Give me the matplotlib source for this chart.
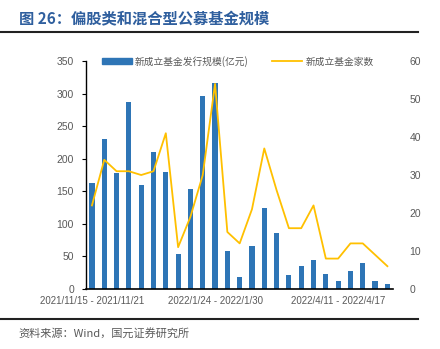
import numpy as np
import matplotlib.pyplot as plt
from matplotlib.lines import Line2D

plt.rcParams['font.family'] = ['Liberation Sans', 'Noto Sans CJK SC', 'DejaVu Sans']

# weekly data, 2021/11/15 - 2022/4/17
weeks = list(range(25))
scale = [162, 231, 178, 287, 159, 210, 179, 53, 153, 296, 317,
         58, 18, 66, 124, 86, 22, 36, 44, 23, 13, 27, 40, 13, 8]
count = [22, 34, 31, 31, 30, 31, 41, 11, 19, 30, 54,
         15, 12, 21, 37, 26, 16, 16, 22, 8, 8, 12, 12, 9, 6]
tick_pos = [0, 10, 20]
tick_labels = ['2021/11/15 - 2021/11/21', '2022/1/24 - 2022/1/30', '2022/4/11 - 2022/4/17']

bar_color = '#2E75B6'
line_color = '#FFC000'
gray = '#595959'

fig = plt.figure(figsize=(4.4, 3.49), dpi=100)
ax = fig.add_axes([0.195, 0.172, 0.698, 0.653])
ax2 = ax.twinx()

ax.bar(weeks, scale, width=0.42, color=bar_color)
ax2.plot(weeks, count, color=line_color, lw=1.3)

ax.set_xlim(-0.5, 24.45)
ax.set_ylim(0, 350)
ax.set_yticks(range(0, 351, 50))
ax2.set_ylim(0, 60)
ax2.set_yticks(range(0, 61, 10))
ax.set_xticks(tick_pos)
ax.set_xticklabels(tick_labels)

for a in (ax, ax2):
    for s in ['top', 'right']:
        a.spines[s].set_visible(False)
ax2.spines['left'].set_visible(False)
ax2.spines['bottom'].set_visible(False)
ax.spines['left'].set_linewidth(1.0)
ax.spines['bottom'].set_linewidth(1.2)

ax.tick_params(axis='y', labelsize=7.5, colors='black', labelcolor=gray, length=3, width=0.8, pad=5.5)
ax.tick_params(axis='x', labelsize=7, labelcolor=gray, length=0, pad=5)
ax2.tick_params(axis='y', labelsize=7.5, labelcolor=gray, length=0, pad=12)

handles = [plt.Rectangle((0, 0), 1, 1, color=bar_color),
           Line2D([0], [0], color=line_color, lw=1.3)]
fig.legend(handles, ['新成立基金发行规模(亿元)', '新成立基金家数'], loc='center left',
           bbox_to_anchor=(0.232, 0.825), ncol=2, frameon=False, columnspacing=2.4,
           handlelength=3.1, handleheight=0.5, handletextpad=0.3,
           borderpad=0, borderaxespad=0,
           prop={'family': 'Noto Sans CJK SC', 'size': 7}, labelcolor=gray)

# title, rules and source note
fig.text(0.043, 0.945, '图 26：偏股类和混合型公募基金规模', fontsize=11, fontweight='bold',
         color='#2F5F9E', family=['Noto Sans CJK SC', 'DejaVu Sans'], va='center')
fig.add_artist(Line2D([0, 0.95], [0.908, 0.908], color='#222222', lw=1.5))
fig.add_artist(Line2D([0, 0.95], [0.086, 0.086], color='#222222', lw=1.5))
fig.text(0.041, 0.046, '资料来源：Wind，国元证券研究所', fontsize=8, color=gray,
         family=['Noto Sans CJK SC', 'DejaVu Sans'], va='center')

fig.savefig('out.png', dpi=100)
